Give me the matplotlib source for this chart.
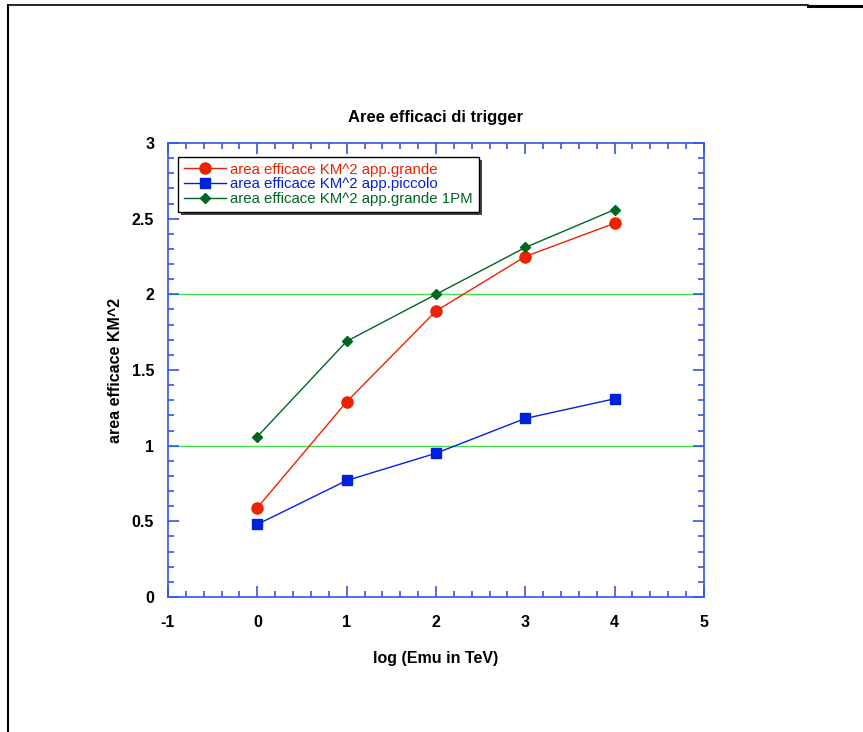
import matplotlib
matplotlib.use("Agg")
import matplotlib.pyplot as plt
from matplotlib.ticker import MultipleLocator
from matplotlib.lines import Line2D
import matplotlib.patches as mpatches

plt.rcParams['font.family'] = ['Liberation Sans', 'DejaVu Sans']
plt.rcParams['axes.unicode_minus'] = False

log_emu = [0, 1, 2, 3, 4]
grande = [0.59, 1.29, 1.89, 2.25, 2.47]
piccolo = [0.48, 0.77, 0.95, 1.18, 1.31]
grande_1pm = [1.06, 1.69, 2.00, 2.31, 2.56]
ref_levels = [1.0, 2.0]

labels = ["area efficace KM^2 app.grande",
          "area efficace KM^2 app.piccolo",
          "area efficace KM^2 app.grande 1PM"]

red = '#ee2200'
blue = '#0022dd'
green = '#006622'
frame_blue = '#3355ee'

fig = plt.figure(figsize=(8.63, 7.32), dpi=100)
ax = fig.add_axes([0.1947, 0.1844, 0.621, 0.6202])

for lvl in ref_levels:
    ax.axhline(lvl, color='#44dd44', lw=1.0, zorder=1)

ax.plot(log_emu, grande, '-', color=red, lw=1.0, marker='o', ms=8,
        mec=red, mfc=red, label=labels[0], zorder=3)
ax.plot(log_emu, piccolo, '-', color=blue, lw=1.0, marker='s', ms=7.5,
        mec=blue, mfc=blue, label=labels[1], zorder=3)
ax.plot(log_emu, grande_1pm, '-', color=green, lw=1.0, marker='D', ms=5.5,
        mec=green, mfc=green, label=labels[2], zorder=3)

ax.set_xlim(-1, 5)
ax.set_ylim(0, 3)
ax.xaxis.set_major_locator(MultipleLocator(1))
ax.xaxis.set_minor_locator(MultipleLocator(0.2))
ax.yaxis.set_major_locator(MultipleLocator(0.5))
ax.yaxis.set_minor_locator(MultipleLocator(0.1))
ax.yaxis.set_major_formatter(plt.FuncFormatter(lambda v, p: ('%g' % v)))

for sp in ax.spines.values():
    sp.set_color(frame_blue)
    sp.set_linewidth(1.2)
ax.tick_params(which='both', direction='in', top=True, right=True,
               color=frame_blue)
ax.tick_params(which='major', length=8, width=1.2, labelsize=11.5)
ax.tick_params(which='minor', length=4.5, width=1.2)
ax.tick_params(axis='x', which='major', pad=13)
ax.tick_params(axis='y', which='major', pad=10)
for t in ax.get_xticklabels() + ax.get_yticklabels():
    t.set_fontweight('bold')

ax.set_title("Aree efficaci di trigger", fontsize=12, pad=15, fontweight='bold')
ax.set_xlabel("log (Emu in TeV)", fontsize=11.5, fontweight='bold', labelpad=15)
ax.set_ylabel("area efficace KM^2", fontsize=11.5, fontweight='bold', labelpad=6)

leg = ax.legend(loc='upper left', bbox_to_anchor=(0.018, 0.97), fontsize=10.8,
                frameon=True, fancybox=False, shadow=False, borderpad=0.4,
                labelspacing=0.05, handlelength=2.8, handletextpad=0.3,
                borderaxespad=0.0, edgecolor='black', framealpha=1)
leg.get_frame().set_linewidth(1.0)
leg.set_zorder(5)
for txt, c in zip(leg.get_texts(), [red, blue, green]):
    txt.set_color(c)

# drop shadow behind the legend box
fig.canvas.draw()
bb = leg.get_frame().get_window_extent().transformed(fig.transFigure.inverted())
shadow = mpatches.Rectangle((bb.x0 + 3 / 863, bb.y0 - 3 / 732), bb.width, bb.height,
                            transform=fig.transFigure, facecolor='#444444',
                            edgecolor='none', zorder=4.5)
ax.add_artist(shadow)

# page frame lines
fig.add_artist(Line2D([8 / 863, 8 / 863], [1 - 5 / 732, 0], color='black', lw=1.5,
                      transform=fig.transFigure))
fig.add_artist(Line2D([8 / 863, 808 / 863], [1 - 5 / 732, 1 - 5 / 732], color='black',
                      lw=1.2, transform=fig.transFigure))
fig.add_artist(Line2D([808 / 863, 1.0], [1 - 6 / 732, 1 - 6 / 732], color='black',
                      lw=2.2, transform=fig.transFigure))

fig.savefig("out.png", dpi=100)
